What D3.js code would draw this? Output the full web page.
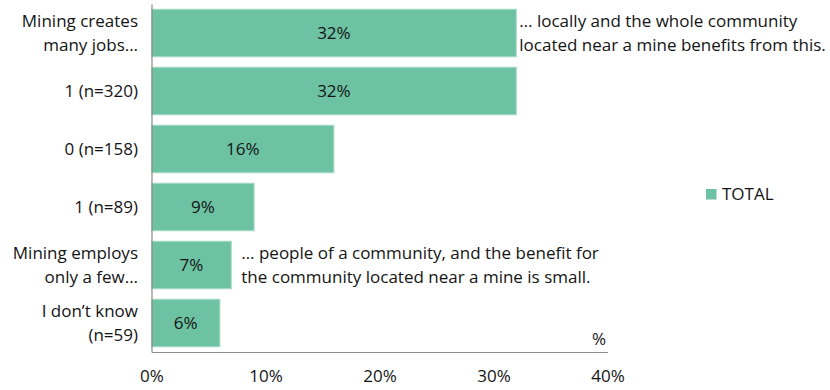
<!DOCTYPE html>
<html>
<head>
<meta charset="utf-8">
<script src="https://cdn.jsdelivr.net/npm/d3@7"></script>
<style>
  html, body { margin: 0; padding: 0; background: #fff; }
  svg { display: block; }
  text { font-family: "Open Sans", Lato, sans-serif; fill: #141414; }
</style>
</head>
<body>
<svg id="chart" width="830" height="390"></svg>
<script>
// Response categories (multi-line labels split on "\n")
const categories = [
  "Mining creates\nmany jobs…",
  "1 (n=320)",
  "0 (n=158)",
  "1 (n=89)",
  "Mining employs\nonly a few…",
  "I don’t know\n(n=59)"
];
// Share of respondents, percent
const totalValues = [32, 32, 16, 9, 7, 6];
const seriesName = "TOTAL";
const xTicks = [0, 10, 20, 30, 40];
// Statement continuations printed beside the two end-point bars
const notes = [
  { row: 0, gap: 3, lines: ["… locally and the whole community", "located near a mine benefits from this."] },
  { row: 4, gap: 10, lines: ["… people of a community, and the benefit for", "the community located near a mine is small."] }
];

const svg = d3.select("#chart");
const plot = { left: 151.5, right: 607.5, top: 4, bottom: 352 };

const x = d3.scaleLinear().domain([0, 40]).range([plot.left, plot.right]);
const y = d3.scaleBand().domain(categories).range([plot.top, plot.bottom])
  .paddingInner(0.18).paddingOuter(0.09);

const barColor = "#6dc2a3";
const fontSize = 17;
const textFont = "'Open Sans', Lato, sans-serif";

// Bars
svg.append("g").selectAll("rect")
  .data(categories)
  .join("rect")
  .attr("x", x(0))
  .attr("y", d => y(d))
  .attr("width", (d, i) => x(totalValues[i]) - x(0))
  .attr("height", y.bandwidth())
  .attr("fill", barColor)
  .attr("stroke", "#aadcc9")
  .attr("stroke-width", 1);

// Value labels centred in each bar
svg.append("g").selectAll("text")
  .data(categories)
  .join("text")
  .attr("x", (d, i) => (x(0) + x(totalValues[i])) / 2)
  .attr("y", d => y(d) + y.bandwidth() / 2)
  .attr("dy", "0.35em")
  .attr("text-anchor", "middle")
  .style("font-size", fontSize + "px")
  .text((d, i) => totalValues[i] + "%");

// Value axis
const xAxis = svg.append("g")
  .attr("transform", `translate(0,${plot.bottom})`)
  .call(d3.axisBottom(x).tickValues(xTicks).tickSize(0).tickPadding(18)
    .tickFormat(d => d + "%"));
xAxis.select(".domain").attr("stroke", "#8c8c8c").attr("stroke-width", 1.2);
xAxis.selectAll("text").style("font-size", fontSize + "px").attr("fill", "#141414")
  .style("font-family", textFont);

// Category axis
const yAxis = svg.append("g")
  .attr("transform", `translate(${plot.left},0)`)
  .call(d3.axisLeft(y).tickSize(0).tickFormat(""));
yAxis.select(".domain").attr("stroke", "#8c8c8c").attr("stroke-width", 1.2);

const lineGap = 24;
svg.append("g").selectAll("text")
  .data(categories)
  .join("text")
  .attr("text-anchor", "end")
  .style("font-size", fontSize + "px")
  .each(function(d) {
    const lines = d.split("\n");
    const cy = y(d) + y.bandwidth() / 2;
    const t = d3.select(this);
    lines.forEach((ln, k) => {
      t.append("tspan")
        .attr("x", 138)
        .attr("y", cy + (k - (lines.length - 1) / 2) * lineGap)
        .attr("dy", "0.35em")
        .text(ln);
    });
  });

// Statement continuations
notes.forEach(n => {
  const cat = categories[n.row];
  const cy = y(cat) + y.bandwidth() / 2;
  const x0 = x(totalValues[n.row]) + n.gap;
  const t = svg.append("text").style("font-size", fontSize + "px");
  n.lines.forEach((ln, k) => {
    t.append("tspan")
      .attr("x", x0)
      .attr("y", cy + (k - 0.5) * 23.5)
      .attr("dy", "0.35em")
      .text(ln);
  });
});

// Unit marker
svg.append("text")
  .attr("x", 599).attr("y", 339).attr("dy", "0.35em")
  .attr("text-anchor", "middle")
  .style("font-size", fontSize + "px")
  .text("%");

// Legend
const legend = svg.append("g").attr("transform", "translate(706,189)");
legend.append("rect").attr("width", 10.5).attr("height", 10.5).attr("fill", barColor);
legend.append("text").attr("x", 16).attr("y", 5.3).attr("dy", "0.35em")
  .style("font-size", fontSize + "px").text(seriesName);
</script>
</body>
</html>
